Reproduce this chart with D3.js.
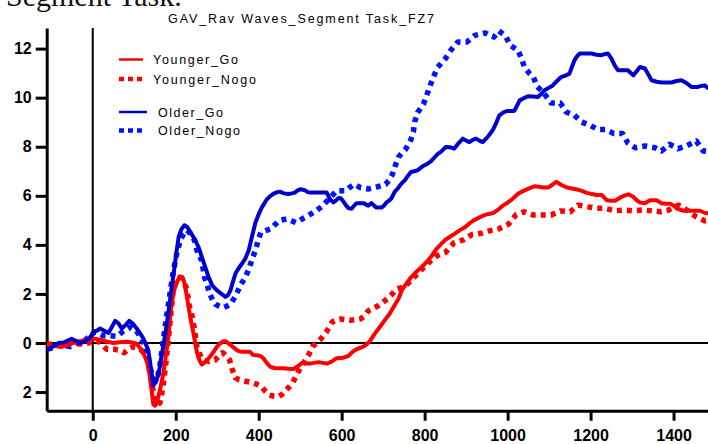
<!DOCTYPE html>
<html>
<head>
<meta charset="utf-8">
<script src="https://cdn.jsdelivr.net/npm/d3@7"></script>
<style>
  html, body { margin: 0; padding: 0; background: #fff; }
  svg { display: block; }
</style>
</head>
<body>
<script>
// Grand-average ERP waveforms at FZ7 (time in ms, amplitude in µV)
const youngerGo = [
  [-110,-0.1],[-103,-0.1],[-90,-0.12],[-75,-0.16],[-60,-0.08],[-47,0],[-35,0.05],[-23,0.11],[-10,0.15],[2,0.18],
  [20,0.12],[35,0.05],[50,0],[65,0.03],[82,0.05],[95,0.02],[106,-0.03],[118,-0.3],[130,-0.7],[136,-1.2],
  [141,-1.8],[146,-2.5],[150,-2.56],[154,-2.47],[158,-2.2],[162,-1.92],[170,-1.25],[177,-0.43],[183,0.38],[188,1.33],
  [195,2.08],[203,2.49],[209,2.69],[214,2.68],[219,2.56],[223,2.3],[227,1.88],[235,1.06],[243,0.38],[251,-0.37],
  [257,-0.7],[263,-0.88],[269,-0.8],[275,-0.7],[283,-0.55],[291,-0.37],[299,-0.16],[307,-0.02],[315,0.07],[321,0.07],
  [327,-0.02],[335,-0.12],[343,-0.23],[350,-0.32],[360,-0.36],[379,-0.36],[387,-0.49],[403,-0.52],[411,-0.62],[419,-0.8],
  [427,-0.96],[439,-1.03],[459,-1.03],[472,-1.05],[484,-1.06],[496,-0.93],[504,-0.82],[514,-0.84],[524,-0.84],[544,-0.78],
  [564,-0.84],[576,-0.76],[588,-0.62],[604,-0.6],[616,-0.53],[624,-0.4],[632,-0.29],[644,-0.2],[652,-0.15],[660,-0.06],
  [668,0.08],[672,0.18],[680,0.38],[692,0.65],[704,0.93],[716,1.2],[728,1.55],[737,1.8],[745,2.15],[755,2.4],
  [765,2.63],[777,2.85],[789,3.04],[799,3.2],[809,3.38],[819,3.6],[829,3.85],[839,4.02],[849,4.19],[861,4.33],
  [873,4.46],[885,4.6],[898,4.73],[908,4.88],[918,5.0],[930,5.1],[942,5.2],[954,5.26],[966,5.3],[978,5.45],
  [990,5.62],[1000,5.72],[1010,5.85],[1018,5.97],[1026,6.09],[1036,6.18],[1046,6.26],[1056,6.33],[1066,6.39],[1076,6.37],
  [1086,6.34],[1098,6.34],[1108,6.45],[1117,6.57],[1124,6.5],[1131,6.43],[1143,6.34],[1155,6.3],[1167,6.26],[1179,6.2],
  [1191,6.12],[1203,6.07],[1215,6.03],[1227,6.03],[1239,5.82],[1249,5.8],[1259,5.8],[1267,5.88],[1275,5.96],[1283,6.02],
  [1291,6.06],[1303,5.96],[1311,5.82],[1319,5.73],[1331,5.7],[1343,5.82],[1359,5.82],[1371,5.7],[1382,5.68],[1392,5.68],
  [1400,5.6],[1408,5.48],[1424,5.39],[1448,5.39],[1464,5.39],[1476,5.3],[1485,5.28]
];

const youngerNogo = [
  [-110,-0.05],[-80,-0.05],[-55,-0.02],[-30,-0.04],[-10,0],[10,0.11],[22,-0.05],[34,-0.26],[54,-0.26],[66,-0.3],
  [76,-0.4],[86,-0.25],[96,-0.16],[106,-0.2],[118,-0.3],[128,-0.55],[134,-0.84],[140,-1.4],[146,-2.0],[150,-2.4],
  [156,-2.5],[162,-2.44],[166,-2.1],[170,-1.72],[178,-0.56],[186,0.8],[194,2.16],[203,2.57],[209,2.68],[215,2.66],
  [221,2.45],[227,2.16],[233,1.5],[239,1.13],[245,0.59],[251,-0.16],[259,-0.5],[267,-0.7],[280,-0.75],[295,-0.7],
  [305,-0.5],[313,-0.39],[321,-0.5],[330,-0.7],[336,-1.07],[344,-1.42],[353,-1.5],[363,-1.54],[374,-1.58],[385,-1.62],
  [395,-1.68],[405,-1.75],[415,-1.95],[425,-2.12],[437,-2.17],[448,-2.19],[456,-2.1],[464,-1.95],[473,-1.8],[482,-1.62],
  [494,-1.21],[507,-0.85],[520,-0.5],[530,-0.14],[540,0],[549,0.15],[564,0.47],[578,0.87],[588,0.95],[598,0.98],
  [610,0.95],[622,0.93],[634,0.95],[645,0.98],[655,1.1],[664,1.31],[676,1.42],[687,1.51],[698,1.65],[710,1.8],
  [722,2.0],[731,2.2],[742,2.25],[752,2.3],[770,2.6],[790,2.95],[810,3.28],[829,3.55],[850,3.69],[870,4.07],
  [893,4.2],[913,4.41],[936,4.47],[958,4.58],[978,4.65],[1002,4.84],[1010,5.0],[1020,5.22],[1040,5.35],[1061,5.22],
  [1085,5.22],[1105,5.22],[1127,5.38],[1151,5.35],[1170,5.62],[1194,5.55],[1215,5.49],[1235,5.49],[1259,5.39],[1282,5.42],
  [1301,5.39],[1324,5.42],[1348,5.39],[1368,5.35],[1388,5.42],[1412,5.62],[1432,5.42],[1452,5.17],[1475,4.98],[1485,5.0]
];

const olderGo = [
  [-110,-0.25],[-103,-0.23],[-92,-0.1],[-82,0],[-70,0.02],[-60,0.1],[-51,0.17],[-40,0.08],[-31,0],[-20,0.05],
  [-8,0.2],[2,0.45],[10,0.5],[18,0.59],[28,0.5],[38,0.41],[46,0.65],[54,0.9],[62,0.8],[70,0.59],
  [80,0.75],[88,0.9],[96,0.8],[106,0.59],[114,0.4],[122,0.18],[128,-0.05],[134,-0.3],[140,-1.0],[146,-1.72],
  [152,-1.6],[159,-1.25],[165,-0.6],[171,-0.03],[177,0.6],[183,1.33],[189,2.1],[195,2.83],[201,3.6],[207,4.32],
  [214,4.65],[221,4.8],[228,4.72],[235,4.53],[245,4.25],[255,3.91],[263,3.5],[271,3.1],[279,2.7],[288,2.35],
  [296,2.2],[304,2.08],[312,1.98],[320,1.88],[326,1.95],[332,2.15],[338,2.5],[344,2.83],[352,3.05],[360,3.24],
  [368,3.45],[376,3.78],[384,4.35],[392,4.9],[400,5.25],[408,5.54],[419,5.84],[427,5.98],[435,6.08],[443,6.14],
  [451,6.17],[461,6.1],[471,6.07],[480,6.1],[487,6.13],[494,6.22],[500,6.27],[506,6.25],[512,6.22],[518,6.15],
  [524,6.13],[548,6.13],[564,6.13],[572,5.86],[580,5.73],[586,5.8],[592,5.91],[598,5.9],[604,5.77],[610,5.62],
  [616,5.5],[624,5.47],[630,5.6],[636,5.7],[652,5.7],[658,5.65],[664,5.6],[672,5.7],[678,5.6],[684,5.52],
  [696,5.52],[702,5.6],[708,5.73],[714,5.8],[720,5.9],[728,6.17],[735,6.29],[741,6.44],[747,6.55],[753,6.65],
  [759,6.8],[767,6.97],[775,7.0],[783,7.04],[795,7.2],[807,7.31],[815,7.4],[823,7.55],[831,7.7],[839,7.79],
  [851,7.99],[861,7.98],[871,7.92],[882,8.15],[892,8.33],[900,8.25],[908,8.19],[916,8.28],[924,8.33],[932,8.25],
  [940,8.19],[952,8.4],[964,8.67],[972,8.95],[980,9.28],[990,9.4],[1000,9.46],[1016,9.46],[1022,9.65],[1029,9.89],
  [1039,9.98],[1049,10.06],[1061,10.05],[1073,10.03],[1081,10.15],[1089,10.3],[1099,10.4],[1109,10.5],[1119,10.68],[1129,10.84],
  [1139,10.9],[1149,10.98],[1155,11.25],[1161,11.52],[1168,11.7],[1174,11.8],[1188,11.8],[1202,11.8],[1214,11.75],[1226,11.73],
  [1234,11.78],[1242,11.8],[1250,11.6],[1258,11.32],[1266,11.12],[1278,11.12],[1290,11.12],[1303,10.91],[1311,11.08],[1319,11.25],
  [1331,11.19],[1339,10.95],[1347,10.71],[1359,10.65],[1371,10.62],[1383,10.62],[1395,10.62],[1407,10.68],[1419,10.71],[1431,10.6],
  [1443,10.44],[1459,10.44],[1467,10.48],[1475,10.5],[1485,10.37]
];

const olderNogo = [
  [-110,-0.25],[-100,-0.22],[-80,-0.05],[-55,-0.15],[-40,0],[-20,0.1],[5,0.45],[25,0.3],[42,0.3],[58,0.27],
  [75,0.5],[90,0.65],[105,0.5],[118,0.15],[128,-0.2],[136,-0.8],[144,-1.4],[150,-1.55],[156,-1.4],[162,-0.9],
  [170,0.1],[178,1.1],[186,2.0],[194,2.9],[202,3.6],[211,4.19],[219,4.45],[227,4.6],[236,4.45],[245,4.19],
  [251,3.78],[257,3.55],[263,3.35],[269,2.7],[276,2.35],[282,2.0],[289,1.75],[296,1.58],[305,1.5],[314,1.44],
  [323,1.5],[332,1.58],[345,1.94],[356,2.35],[368,2.69],[376,3.0],[384,3.4],[392,3.78],[399,4.2],[405,4.5],
  [417,4.58],[429,4.65],[439,4.82],[449,4.99],[459,5.03],[468,5.05],[479,4.98],[490,4.91],[500,5.0],[510,5.11],
  [520,5.2],[529,5.29],[541,5.42],[552,5.56],[570,5.88],[588,6.21],[600,6.21],[611,6.21],[620,6.35],[630,6.47],
  [646,6.33],[664,6.28],[676,6.32],[687,6.37],[697,6.42],[706,6.47],[715,6.65],[722,6.86],[730,7.27],[738,7.6],
  [748,7.8],[755,7.92],[767,8.29],[773,8.63],[776,9.01],[783,9.39],[797,9.73],[805,10.1],[813,10.48],[821,10.84],
  [831,11.23],[840,11.4],[849,11.57],[863,11.93],[880,12.27],[902,12.27],[921,12.54],[946,12.64],[967,12.47],[979,12.72],
  [995,12.52],[1006,12.14],[1025,11.93],[1034,11.57],[1041,11.23],[1052,11.0],[1062,10.84],[1071,10.46],[1087,10.19],[1105,9.78],
  [1127,9.78],[1141,9.42],[1161,9.28],[1178,9.01],[1199,8.87],[1218,8.7],[1235,8.7],[1256,8.54],[1277,8.54],[1290,8.15],
  [1308,7.96],[1332,8.03],[1355,7.96],[1371,7.83],[1390,8.1],[1411,7.92],[1430,8.03],[1455,8.23],[1471,7.83],[1485,7.8]
];

const seriesNames = ["Younger_Go", "Younger_Nogo", "Older_Go", "Older_Nogo"];
const xTicks = [0, 200, 400, 600, 800, 1000, 1200, 1400];
const xTickLabels = ["0", "200", "400", "600", "800", "1000", "1200", "1400"];
const yTicks = [-2, 0, 2, 4, 6, 8, 10, 12];
const yTickLabels = ["2", "0", "2", "4", "6", "8", "10", "12"];
const chartTitle = "GAV_Rav Waves_Segment Task_FZ7";
const headingText = "Segment Task.";

const W = 708, H = 444;
const svg = d3.select("body").append("svg").attr("width", W).attr("height", H);

const x = d3.scaleLinear().domain([-111, 1483]).range([46.7, 708]);
const y = d3.scaleLinear().domain([-2.76, 12.84]).range([410.7, 28]);

// Heading from the surrounding document, running off the top edge
svg.append("text")
  .attr("x", 6).attr("y", 6)
  .attr("font-family", "'Liberation Serif', 'Times New Roman', serif")
  .attr("font-size", 30)
  .attr("fill", "#111")
  .text(headingText);

// Chart title
svg.append("text")
  .attr("x", 168).attr("y", 23)
  .attr("font-family", "'Liberation Sans', Arial, sans-serif")
  .attr("font-size", 12.5)
  .attr("textLength", 266)
  .attr("lengthAdjust", "spacing")
  .attr("fill", "#000")
  .text(chartTitle);

svg.append("defs").append("clipPath").attr("id", "plotClip")
  .append("rect").attr("x", 46.7).attr("y", 0).attr("width", W - 46.7).attr("height", 410.7);

// Zero reference lines
svg.append("line")
  .attr("x1", x(0)).attr("x2", x(0)).attr("y1", y.range()[1]).attr("y2", y.range()[0])
  .attr("stroke", "#000").attr("stroke-width", 2);
svg.append("line")
  .attr("x1", x.range()[0]).attr("x2", x.range()[1]).attr("y1", y(0)).attr("y2", y(0))
  .attr("stroke", "#000").attr("stroke-width", 2);

// Axes
const fontTick = "'Liberation Sans', Arial, sans-serif";
const gx = svg.append("g")
  .attr("transform", `translate(0,${y.range()[0]})`)
  .call(d3.axisBottom(x).tickValues(xTicks).tickFormat((d, i) => xTickLabels[i])
    .tickSize(10).tickSizeOuter(0));
gx.selectAll("text").attr("dy", 0).attr("y", 30.5);

const gy = svg.append("g")
  .attr("transform", `translate(${x.range()[0]},0)`)
  .call(d3.axisLeft(y).tickValues(yTicks).tickFormat((d, i) => yTickLabels[i])
    .tickSize(11).tickSizeOuter(0).tickPadding(4));

[gx, gy].forEach(g => {
  g.attr("font-family", null).attr("font-size", null);
  g.select(".domain").attr("stroke", "#000").attr("stroke-width", 3);
  g.selectAll(".tick line").attr("stroke", "#000").attr("stroke-width", 3);
  g.selectAll("text")
    .attr("font-family", fontTick).attr("font-size", 16).attr("font-weight", "bold")
    .attr("fill", "#000");
});

// Waveforms
const line = d3.line().x(d => x(d[0])).y(d => y(d[1]));
const styles = [
  { data: youngerGo,   color: "#ff0000", dash: null,  width: 4 },
  { data: youngerNogo, color: "#ff0000", dash: "5,5", width: 5.5 },
  { data: olderGo,     color: "#0000cc", dash: null,  width: 4 },
  { data: olderNogo,   color: "#0015ff", dash: "5,5", width: 5.5 }
];
const plot = svg.append("g").attr("clip-path", "url(#plotClip)");
// dotted series underneath, solid on top
[1, 3, 0, 2].forEach(i => {
  const s = styles[i];
  plot.append("path")
    .attr("d", line(s.data))
    .attr("fill", "none")
    .attr("stroke", s.color)
    .attr("stroke-width", s.width)
    .attr("stroke-dasharray", s.dash)
    .attr("stroke-linejoin", "round")
    .attr("stroke-linecap", "butt");
});

// Legend
const legendRows = [
  { y: 59.5,  lx: 119, len: 24, tx: 153, tw: 85 },
  { y: 79,    lx: 119, len: 23, tx: 153, tw: 103 },
  { y: 112,   lx: 119, len: 28, tx: 158, tw: 65 },
  { y: 130.5, lx: 119, len: 23, tx: 158, tw: 82 }
];
const legend = svg.append("g");
legendRows.forEach((r, i) => {
  const s = styles[i];
  legend.append("line")
    .attr("x1", r.lx).attr("x2", r.lx + r.len)
    .attr("y1", r.y).attr("y2", r.y)
    .attr("stroke", s.color)
    .attr("stroke-width", s.dash ? 4.5 : 2.5)
    .attr("stroke-dasharray", s.dash ? "5,4" : null);
  legend.append("text")
    .attr("x", r.tx).attr("y", r.y + 4.5)
    .attr("font-family", "'Liberation Sans', Arial, sans-serif")
    .attr("font-size", 12.5)
    .attr("textLength", r.tw)
    .attr("lengthAdjust", "spacing")
    .attr("fill", "#000")
    .text(seriesNames[i]);
});
</script>
</body>
</html>
